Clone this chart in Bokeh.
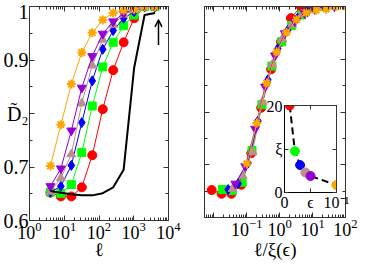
import numpy as np
from bokeh.plotting import figure
from bokeh.layouts import row, column
from bokeh.models import FixedTicker, LinearAxis, LogAxis, Arrow, OpenHead
from bokeh.embed import file_html
from bokeh.resources import INLINE

# ---------------- data ----------------
ell = [4, 8, 16, 32, 64, 128, 256, 512, 1024, 2048, 4096]
d2_red = [0.652, 0.645, 0.645, 0.662, 0.722, 0.808, 0.881, 0.933, 0.978, 1.0, 1.0]
d2_green = [0.653, 0.651, 0.667, 0.727, 0.814, 0.887, 0.933, 0.964, 0.984, 1.0, 1.0]
d2_blue = [0.653, 0.664, 0.703, 0.783, 0.861, 0.920, 0.955, 0.978, 0.990, 1.0, 1.0]
d2_brown = [0.654, 0.679, 0.724, 0.819, 0.890, 0.938, 0.966, 0.985, 0.993, 1.0, 1.0]
d2_purple = [0.664, 0.697, 0.768, 0.848, 0.907, 0.949, 0.972, 0.987, 0.995, 1.0, 1.0]
d2_orange = [0.702, 0.779, 0.855, 0.914, 0.951, 0.975, 0.988, 0.993, 0.995, 1.0, 1.0]
d2_black = [0.655, 0.652, 0.649, 0.647, 0.647, 0.651, 0.662, 0.695, 0.885, 0.984, 0.988]

eps = [0.01, 0.02, 0.03, 0.04, 0.05, 0.1]
xi = [20.0, 9.5, 6.3, 4.6, 3.8, 1.7]
XI_SCALE = 23.3  # units of xi used on the collapse axis

colors = ["#ff0000", "#00ff00", "#0000ff", "#bc8f8f", "#9400d3", "#ffa500"]
markers = ["circle", "square", "diamond", "triangle", "inverted_triangle", "asterisk"]
sizes = [9, 8, 10, 9, 9, 9]
series = [d2_red, d2_green, d2_blue, d2_brown, d2_purple, d2_orange]

y_ticks = [0.6, 0.7, 0.8, 0.9, 1.0]
y_minor = [0.65, 0.75, 0.85, 0.95]
y_labels = {0.6: "0.6", 0.7: "0.7", 0.8: "D\u0303\u2082", 0.9: "0.9", 1.0: "1"}
xl_ticks = [1, 10, 100, 1000, 10000]
xr_ticks = [0.01, 0.1, 1, 10, 100]

FONT = '"Liberation Serif"'
AX = "#333333"


def decade_minors(lo, hi):
    out = []
    for d in range(lo, hi):
        for k in range(2, 10):
            out.append(k * 10.0 ** d)
    return out


def style_axis(ax, size="18px", show=True, standoff=3, tin=5, mtin=3):
    ax.major_tick_in = tin
    ax.major_tick_out = 0
    ax.minor_tick_in = mtin
    ax.minor_tick_out = 0
    ax.axis_line_color = AX
    ax.major_tick_line_color = AX
    ax.minor_tick_line_color = AX
    ax.major_label_text_font = FONT
    ax.major_label_text_color = "black"
    ax.axis_label_text_font = FONT
    ax.axis_label_text_font_style = "normal"
    ax.axis_label_text_color = "black"
    if show:
        ax.major_label_text_font_size = size
        ax.major_label_standoff = standoff
    else:
        ax.major_label_text_font_size = "1px"
        ax.major_label_text_alpha = 0
        ax.major_label_standoff = 0


def base_fig(width, x_range, mb_left, mb_right):
    p = figure(width=width, height=262, x_axis_type="log", x_range=x_range,
               y_range=(0.6, 1.0), output_backend="svg", toolbar_location=None,
               min_border_left=mb_left, min_border_right=mb_right,
               min_border_top=6, min_border_bottom=40)
    p.xgrid.grid_line_color = None
    p.ygrid.grid_line_color = None
    p.outline_line_color = AX
    p.background_fill_color = "white"
    p.border_fill_color = "white"
    return p


# ---------------- left panel ----------------
pl = base_fig(183, (1, 1e4), 26, 15)
xt = FixedTicker(ticks=xl_ticks, minor_ticks=decade_minors(0, 4))
yt = FixedTicker(ticks=y_ticks, minor_ticks=y_minor)
pl.xaxis.ticker = xt
pl.yaxis.ticker = yt
pl.yaxis.major_label_overrides = y_labels
style_axis(pl.xaxis[0], standoff=1)
style_axis(pl.yaxis[0], size="20px", standoff=1)
pl.xaxis.axis_label = "\u2113"
pl.xaxis.axis_label_text_font_size = "19px"
pl.xaxis.axis_label_standoff = -3
top = LogAxis(ticker=xt)
style_axis(top, show=False)
right = LinearAxis(ticker=yt)
style_axis(right, show=False)
pl.add_layout(top, "above")
pl.add_layout(right, "right")

for ys, c, m, s in zip(series, colors, markers, sizes):
    pl.line(ell, ys, line_color=c, line_width=1)
    if m == "asterisk":
        pl.scatter(ell, ys, marker=m, size=s, line_color=c, line_width=2)
    else:
        pl.scatter(ell, ys, marker=m, size=s, fill_color=c, line_color=c)
pl.line(ell, d2_black, line_color="black", line_width=2)
pl.add_layout(Arrow(end=OpenHead(size=7, line_width=1.5, line_color="black"),
                    x_start=5150, y_start=0.928, x_end=5150, y_end=0.975,
                    line_width=1.5, line_color="black"))

# ---------------- right panel ----------------
pr = base_fig(175, (0.0052, 100), 2, 13)
xt2 = FixedTicker(ticks=xr_ticks, minor_ticks=decade_minors(-3, 2))
pr.xaxis.ticker = xt2
pr.yaxis.ticker = yt
pr.xaxis.major_label_overrides = {0.01: " "}
style_axis(pr.xaxis[0], standoff=1)
style_axis(pr.yaxis[0], show=False)
pr.xaxis.axis_label = "\u2113/\u03be(\u03f5)"
pr.xaxis.axis_label_text_font_size = "19px"
pr.xaxis.axis_label_standoff = -3
top2 = LogAxis(ticker=xt2)
style_axis(top2, show=False)
right2 = LinearAxis(ticker=yt)
style_axis(right2, show=False)
pr.add_layout(top2, "above")
pr.add_layout(right2, "right")

ell_arr = np.array(ell, dtype=float)
for ys, c, m, s, x_i in zip(series, colors, markers, sizes, xi):
    xs = ell_arr / (XI_SCALE * x_i)
    pr.line(xs, ys, line_color=c, line_width=1)
    if m == "asterisk":
        pr.scatter(xs, ys, marker=m, size=s, line_color=c, line_width=2)
    else:
        pr.scatter(xs, ys, marker=m, size=s, fill_color=c, line_color=c)

# ---------------- inset ----------------
pi = figure(width=86, height=116, x_range=(0, 0.1), y_range=(0, 20),
            output_backend="svg", toolbar_location=None,
            min_border_left=18, min_border_right=10, min_border_top=8,
            min_border_bottom=18, margin=(-165, 0, 0, 80))
pi.xgrid.grid_line_color = None
pi.ygrid.grid_line_color = None
pi.outline_line_color = "black"
pi.background_fill_color = "white"
pi.border_fill_color = None
xt3 = FixedTicker(ticks=[0, 0.05, 0.1], minor_ticks=[])
yt3 = FixedTicker(ticks=[0, 10, 20], minor_ticks=[])
pi.xaxis.ticker = xt3
pi.yaxis.ticker = yt3
pi.xaxis.major_label_overrides = {0: "0", 0.05: "\u03f5", 0.1: "10\u207b\u00b9"}
pi.yaxis.major_label_overrides = {0: "0", 10: "\u03be", 20: "20"}
style_axis(pi.xaxis[0], size="16px", standoff=1, tin=4)
style_axis(pi.yaxis[0], size="16px", standoff=2, tin=4)
pi.xaxis.axis_line_color = "black"
pi.yaxis.axis_line_color = "black"
top3 = LinearAxis(ticker=xt3)
style_axis(top3, show=False, tin=4)
right3 = LinearAxis(ticker=yt3)
style_axis(right3, show=False, tin=4)
pi.add_layout(top3, "above")
pi.add_layout(right3, "right")
pi.line(eps, xi, line_color="black", line_width=2, line_dash="7 4")
pi.scatter(eps, xi, marker="circle", size=9, fill_color=colors, line_color=colors)

layout = row(pl, column(pr, pi))

open("out.html", "w").write(file_html(layout, INLINE))
